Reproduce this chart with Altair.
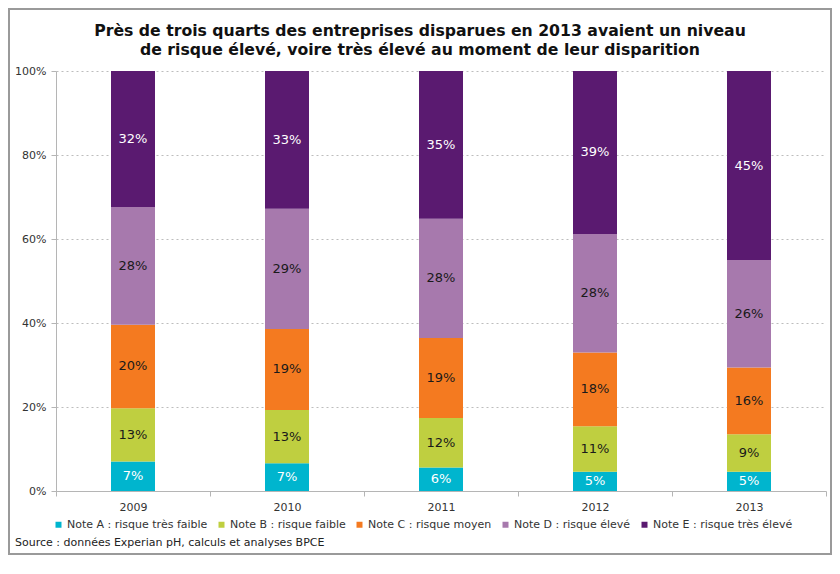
import altair as alt
import pandas as pd

years = ["2009", "2010", "2011", "2012", "2013"]
notes = [
    "Note A : risque très faible",
    "Note B : risque faible",
    "Note C : risque moyen",
    "Note D : risque élevé",
    "Note E : risque très élevé",
]
colors = ["#00B5CE", "#BFCF40", "#F47A20", "#A779AD", "#5A1A70"]
label_colors = ["#ffffff", "#1a1a1a", "#1a1a1a", "#1a1a1a", "#ffffff"]

# shares in percent, per year
note_a = [7.0, 6.6, 5.6, 4.6, 4.6]
note_b = [12.7, 12.7, 11.8, 10.8, 8.9]
note_c = [19.9, 19.3, 19.0, 17.6, 15.9]
note_d = [28.0, 28.6, 28.4, 28.2, 25.6]
note_e = [32.4, 32.8, 35.2, 38.8, 45.0]
y_ticks = [0, 0.2, 0.4, 0.6, 0.8, 1.0]

title_lines = [
    "Près de trois quarts des entreprises disparues en 2013 avaient un niveau",
    "de risque élevé, voire très élevé au moment de leur disparition",
]
source_text = "Source : données Experian pH, calculs et analyses BPCE"

FONT = "DejaVu Sans"

series = [note_a, note_b, note_c, note_d, note_e]
rows = []
for k, (note, vals) in enumerate(zip(notes, series)):
    for yr, v in zip(years, vals):
        rows.append({"year": yr, "note": note, "order": k, "value": v / 100.0,
                     "lc": label_colors[k]})
df = pd.DataFrame(rows)

base = alt.Chart(df).transform_stack(
    stack="value", groupby=["year"], as_=["y0", "y1"],
    sort=[alt.SortField("order", order="ascending")],
)

x_enc = alt.X(
    "year:N", sort=years,
    scale=alt.Scale(paddingInner=0, paddingOuter=0),
    axis=alt.Axis(title=None, labelAngle=0, tickBand="extent", tickSize=5,
                  tickColor="#b5b5b5", domainColor="#b5b5b5", labelFont=FONT,
                  labelFontSize=11, labelColor="#333333", labelPadding=5, grid=False),
)

bars = base.mark_bar(size=44).encode(
    x=x_enc,
    y=alt.Y("y0:Q", scale=alt.Scale(domain=[0, 1], nice=False),
            axis=alt.Axis(title=None, values=y_ticks, format=".0%", tickSize=5,
                          labelPadding=5, tickColor="#b5b5b5", domainColor="#b5b5b5",
                          grid=True, gridDash=[2, 3], gridColor="#bdbdbd",
                          labelFont=FONT, labelFontSize=11, labelColor="#333333")),
    y2="y1:Q",
    color=alt.Color("note:N", scale=alt.Scale(domain=notes, range=colors),
                    legend=alt.Legend(orient="none", legendX=-3, legendY=448,
                                      direction="horizontal", title=None,
                                      symbolType="square", symbolSize=36,
                                      symbolStrokeWidth=0, labelFont=FONT,
                                      labelFontSize=11, labelColor="#333333",
                                      columnPadding=8, labelOffset=3, padding=0)),
)

labels = base.transform_calculate(mid="(datum.y0 + datum.y1) / 2").mark_text(
    font=FONT, fontSize=13, baseline="middle", align="center"
).encode(
    x=alt.X("year:N", sort=years),
    y=alt.Y("mid:Q"),
    text=alt.Text("value:Q", format=".0%"),
    color=alt.Color("lc:N", scale=None),
)

frame = alt.Chart(pd.DataFrame({"a": [0]})).mark_rect(
    fillOpacity=0, stroke="#9a9a9a", strokeWidth=2
).encode(x=alt.value(-47), x2=alt.value(775), y=alt.value(-62), y2=alt.value(483))

title = alt.Chart(pd.DataFrame({"t": ["\n".join(title_lines)]})).mark_text(
    font=FONT, fontSize=15.7, fontWeight="bold", align="center", baseline="top",
    lineBreak="\n", lineHeight=19, color="#111111"
).encode(x=alt.value(364), y=alt.value(-47), text="t:N")

source = alt.Chart(pd.DataFrame({"t": [source_text]})).mark_text(
    font=FONT, fontSize=11, align="left", baseline="middle", color="#222222"
).encode(x=alt.value(-41), y=alt.value(472), text="t:N")

chart = alt.layer(frame, bars, labels, title, source).properties(
    width=770, height=420,
    padding={"left": 48, "top": 63, "right": 6, "bottom": 67},
    autosize=alt.AutoSizeParams(type="none"),
    background="white",
).configure_view(stroke=None)

chart.save("out.html", embed_options={"renderer": "svg", "actions": False})
